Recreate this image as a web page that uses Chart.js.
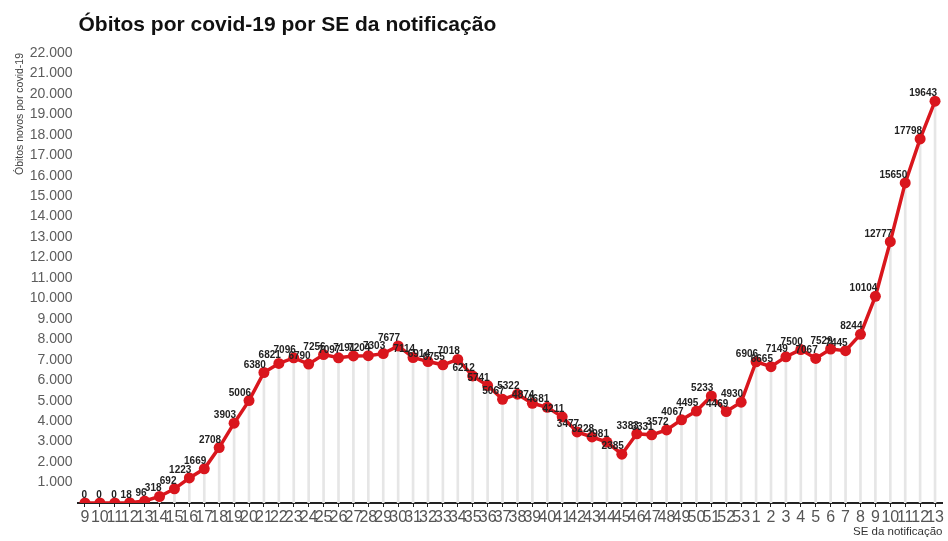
<!DOCTYPE html>
<html>
<head>
<meta charset="utf-8">
<script src="https://cdn.jsdelivr.net/npm/chart.js@4/dist/chart.umd.min.js"></script>
<style>
  html, body { margin: 0; padding: 0; background: #fff; }
  #wrap { width: 948px; height: 541px; }
</style>
</head>
<body>
<div id="wrap"><canvas id="graficoObitos" width="948" height="541"></canvas></div>
<script>
// semanas epidemiologicas (2020: 9 a 53, 2021: 1 a 13)
var semanas = ['9','10','11','12','13','14','15','16','17','18','19','20','21','22','23','24','25','26','27','28','29','30',
  '31','32','33','34','35','36','37','38','39','40','41','42','43','44','45','46','47','48','49','50','51','52','53',
  '1','2','3','4','5','6','7','8','9','10','11','12','13'];

var obitos = [0, 0, 0, 18, 96, 318, 692, 1223, 1669, 2708, 3903, 5006, 6380, 6821, 7096, 6790, 7256, 7097, 7191, 7204, 7303, 7677,
  7114, 6914, 6755, 7018, 6212, 5741, 5067, 5322, 4874, 4681, 4211, 3477, 3228, 2981, 2385, 3383, 3331, 3572, 4067, 4495, 5233, 4469, 4930,
  6906, 6665, 7149, 7500, 7067, 7529, 7445, 8244, 10104, 12777, 15650, 17798, 19643];

var titulo = 'Óbitos por covid-19 por SE da notificação';
var tituloEixoY = 'Óbitos novos por covid-19';
var tituloEixoX = 'SE da notificação';

var VERMELHO = '#d9161d';

function formataMilhar(v){
  return String(v).replace(/\B(?=(\d{3})+(?!\d))/g, '.');
}

// titulo alinhado com a area do grafico
var pluginTitulo = {
  id: 'tituloEsquerda',
  afterDraw: function(chart){
    var ctx = chart.ctx;
    ctx.save();
    ctx.font = 'bold 21px "Liberation Sans", Arial, sans-serif';
    ctx.fillStyle = '#111';
    ctx.textAlign = 'left';
    ctx.textBaseline = 'alphabetic';
    ctx.fillText(titulo, chart.chartArea.left + 1, 31);
    ctx.restore();
  }
};

// valor de cada ponto, acima e a esquerda
var pluginValores = {
  id: 'valores',
  afterDatasetsDraw: function(chart){
    var ctx = chart.ctx;
    var meta = chart.getDatasetMeta(0);
    ctx.save();
    ctx.font = 'bold 10px "Liberation Sans", Arial, sans-serif';
    ctx.fillStyle = '#222';
    ctx.textAlign = 'right';
    ctx.textBaseline = 'alphabetic';
    meta.data.forEach(function(pt, i){
      ctx.fillText(String(obitos[i]), pt.x + 2, pt.y - 5);
    });
    ctx.restore();
  }
};

var grafico = new Chart(document.getElementById('graficoObitos').getContext('2d'), {
  data: {
    labels: semanas,
    datasets: [
      {
        type: 'line',
        data: obitos,
        borderColor: VERMELHO,
        backgroundColor: VERMELHO,
        borderWidth: 3.5,
        pointRadius: 5.5,
        pointBackgroundColor: VERMELHO,
        pointBorderWidth: 0,
        tension: 0,
        order: 0
      },
      {
        // linhas verticais ate cada ponto
        type: 'bar',
        data: obitos,
        backgroundColor: '#e6e6e6',
        barThickness: 2,
        order: 1
      }
    ]
  },
  options: {
    responsive: false,
    animation: false,
    layout: { padding: { top: 53, right: 1, left: 4, bottom: 0 } },
    plugins: {
      legend: { display: false },
      tooltip: { enabled: false },
      title: { display: false }
    },
    scales: {
      x: {
        grid: {
          drawOnChartArea: false,
          drawTicks: true,
          tickLength: 4,
          color: '#222',
          offset: false
        },
        border: { color: '#222', width: 2 },
        ticks: {
          autoSkip: false,
          maxRotation: 0,
          minRotation: 0,
          padding: 1,
          color: '#555',
          font: { family: '"Liberation Sans Narrow", "Liberation Sans", Arial', size: 16 }
        },
        title: {
          display: true,
          text: tituloEixoX,
          align: 'end',
          color: '#333',
          padding: { top: 0, bottom: 2 },
          font: { family: '"Liberation Sans Narrow", "Liberation Sans", Arial', size: 11.5 }
        },
        afterFit: function(scale){ scale.height = 38; }
      },
      y: {
        min: 0,
        max: 22000,
        grid: { display: false, drawTicks: false },
        border: { display: false },
        ticks: {
          stepSize: 1000,
          padding: 5,
          color: '#5c5c5c',
          font: { family: '"Liberation Sans", Arial', size: 14 },
          callback: function(v){ return v === 0 ? '' : formataMilhar(v); }
        },
        title: {
          display: true,
          text: tituloEixoY,
          align: 'end',
          color: '#444',
          padding: { top: 10, bottom: 0 },
          font: { family: '"Liberation Sans", Arial', size: 10.5 }
        },
        afterFit: function(scale){ scale.width = 73.5; }
      }
    }
  },
  plugins: [pluginTitulo, pluginValores]
});
</script>
</body>
</html>
